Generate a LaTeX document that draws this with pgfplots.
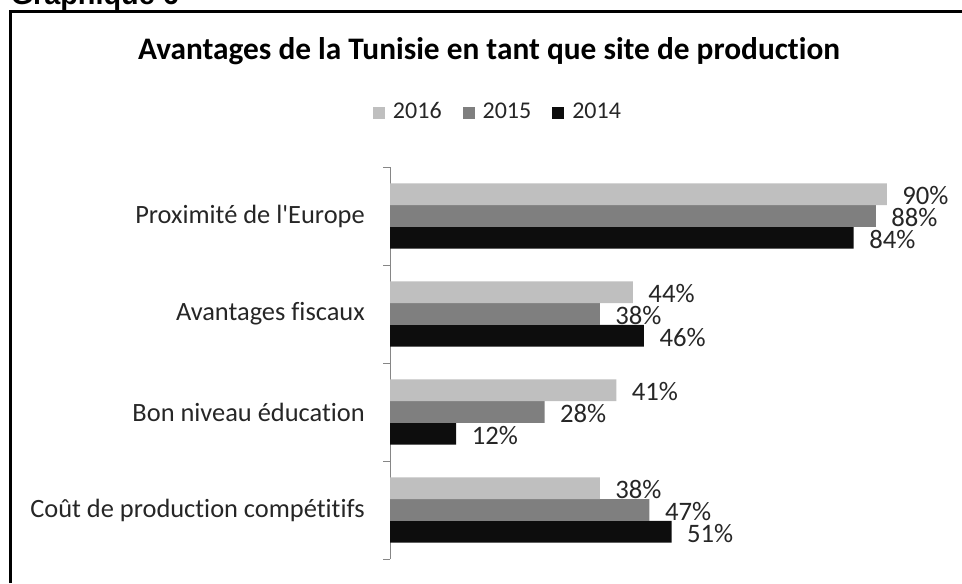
\documentclass[border=0pt]{standalone}
\usepackage{fontspec}
\setmainfont{Carlito}[Ligatures={TeXOff,NoCommon}]
\newfontfamily\arialfont{Liberation Sans}
\usepackage{pgfplots}
\pgfplotsset{compat=1.18}
\definecolor{c16}{HTML}{BFBFBF}
\definecolor{c15}{HTML}{7F7F7F}
\definecolor{c14}{HTML}{0D0D0D}
\definecolor{txt}{HTML}{262626}
\definecolor{axisgray}{HTML}{868686}
\begin{document}
\begin{tikzpicture}[x=0.75pt,y=0.75pt]
\useasboundingbox (0,0) rectangle (962,583);
\begin{scope}
\clip (0,0) rectangle (962,583);
\node[anchor=base west, inner sep=0pt, font=\arialfont\bfseries\fontsize{21.6}{22}\selectfont] at (10.5,578.5) {Graphique 6};
\draw[line width=1.9pt] (10.7,0) -- (10.7,571.5) -- (962,571.5);
\end{scope}
\node[anchor=base, inner sep=0pt, font=\bfseries\fontsize{23.5}{24}\selectfont] at (489,523) {Avantages de la Tunisie en tant que site de production};
\begin{axis}[
  at={(292.5pt,18pt)}, anchor=south west,
  scale only axis, width=414pt, height=294pt,
  xbar, bar width=0.2214,
  xmin=0, xmax=100, ymin=-0.5, ymax=3.5,
  axis x line=none, axis y line*=left,
  y axis line style={axisgray, line width=0.75pt},
  ytick={0,1,2,3},
  yticklabels={Coût de production compétitifs, Bon niveau éducation, Avantages fiscaux, Proximité de l'Europe},
  major tick length=0pt,
  minor ytick={-0.5,0.5,1.5,2.5,3.5},
  minor tick length=5.25pt, tick align=outside,
  every tick/.style={axisgray, line width=0.75pt},
  yticklabel style={font=\fontsize{19.8}{20}\selectfont, text=txt, inner sep=0pt, anchor=east, xshift=-18.75pt},
  /pgf/number format/assume math mode=true,
  point meta=x,
  nodes near coords={\pgfmathprintnumber{\pgfplotspointmeta}\%},
  nodes near coords style={font=\fontsize{20}{20}\selectfont, text=txt, anchor=west, inner sep=0pt, xshift=11.5pt, yshift=-1pt},
  legend columns=3,
  reverse legend,
  legend image code/.code={\fill[#1] (0pt,-4.5pt) rectangle (9pt,4.5pt);},
  legend style={at={(-0.0308,1.1378)}, anchor=west, draw=none, fill=none, inner sep=0pt, outer sep=0pt,
    text=txt,
    nodes={inner sep=0pt, font=\fontsize{18}{18}\selectfont, text depth=0pt, text height=9pt},
    /tikz/every odd column/.append style={column sep=6pt},
    /tikz/every even column/.append style={column sep=15.75pt}},
  clip=false,
]
\addplot[fill=c14, draw=none, bar shift=-0.2214] coordinates {(51,0) (12,1) (46,2) (84,3)};
\addplot[fill=c15, draw=none, bar shift=0] coordinates {(47,0) (28,1) (38,2) (88,3)};
\addplot[fill=c16, draw=none, bar shift=0.2214] coordinates {(38,0) (41,1) (44,2) (90,3)};
\legend{2014,2015,2016}
\end{axis}
\end{tikzpicture}
\end{document}
